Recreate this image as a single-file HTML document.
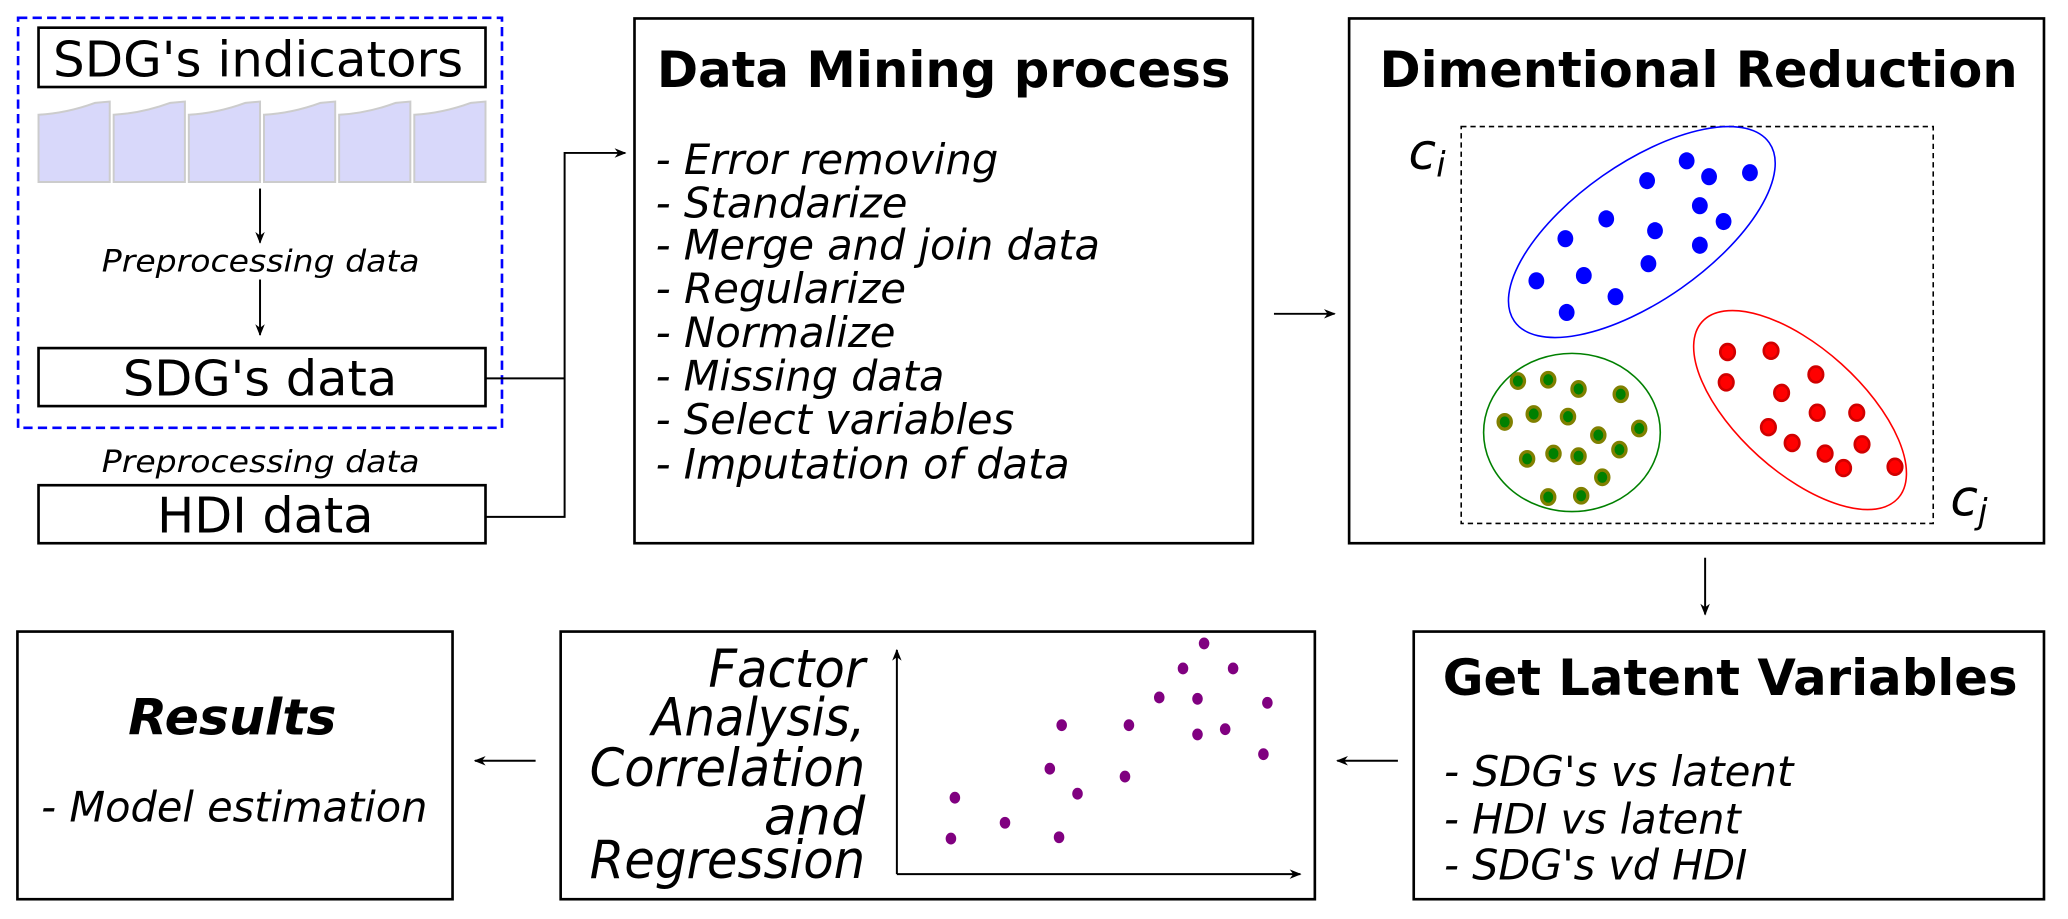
<!DOCTYPE html>
<html><head><meta charset="utf-8"><style>
html,body{margin:0;padding:0;background:#fff;}
svg{display:block;}
text{font-family:"DejaVu Sans","Liberation Sans",sans-serif;fill:#000;}
.it{font-style:italic;}
.b{font-weight:bold;}
</style></head><body>
<svg width="2068" height="919" viewBox="0 0 1568 697" xmlns="http://www.w3.org/2000/svg">
<defs>
<marker id="ah" viewBox="0 0 10 10" refX="9" refY="5" markerWidth="9" markerHeight="9" markerUnits="userSpaceOnUse" orient="auto">
<path d="M0,1 L10,5 L0,9 L3,5 Z" fill="#000"/>
</marker>
</defs>
<rect x="0" y="0" width="1568" height="697" fill="#fff"/>

<rect x="13.5" y="13.5" width="367" height="311" fill="none" stroke="#0000ff" stroke-width="2" stroke-dasharray="7,4"/>
<rect x="29" y="21" width="339" height="45" fill="#fff" stroke="#000" stroke-width="2"/>
<text x="40" y="58" font-size="37" textLength="311" lengthAdjust="spacingAndGlyphs">SDG's indicators</text>
<g fill="#d8d8fa" stroke="#cccccc" stroke-width="1.5">
<path d="M29,138 V87 Q50,86 72,78 L83,77 V138 Z"/>
<path d="M86,138 V87 Q107,86 129,78 L140,77 V138 Z"/>
<path d="M143,138 V87 Q164,86 186,78 L197,77 V138 Z"/>
<path d="M200,138 V87 Q221,86 243,78 L254,77 V138 Z"/>
<path d="M257,138 V87 Q278,86 300,78 L311,77 V138 Z"/>
<path d="M314,138 V87 Q335,86 357,78 L368,77 V138 Z"/>
</g>
<line x1="197" y1="143" x2="197" y2="184" stroke="#000" stroke-width="1.5" marker-end="url(#ah)"/>
<text x="77" y="206" font-size="23" class="it" textLength="241" lengthAdjust="spacingAndGlyphs">Preprocessing data</text>
<line x1="197" y1="212" x2="197" y2="254" stroke="#000" stroke-width="1.5" marker-end="url(#ah)"/>
<rect x="29" y="264" width="339" height="44" fill="#fff" stroke="#000" stroke-width="2"/>
<text x="93" y="300" font-size="37" textLength="208" lengthAdjust="spacingAndGlyphs">SDG's data</text>
<text x="77" y="358" font-size="23" class="it" textLength="241" lengthAdjust="spacingAndGlyphs">Preprocessing data</text>
<rect x="29" y="368" width="339" height="44" fill="#fff" stroke="#000" stroke-width="2"/>
<text x="119" y="404" font-size="37" textLength="164" lengthAdjust="spacingAndGlyphs">HDI data</text>

<polyline points="368,287 428,287" fill="none" stroke="#000" stroke-width="1.5"/>
<polyline points="368,392 428,392 428,116 474,116" fill="none" stroke="#000" stroke-width="1.5" marker-end="url(#ah)"/>

<rect x="481" y="14" width="469" height="398" fill="#fff" stroke="#000" stroke-width="2"/>
<text x="498" y="66" font-size="38" class="b" textLength="435" lengthAdjust="spacingAndGlyphs">Data Mining process</text>
<g font-size="32">
<text x="497" y="132" class="it" textLength="260" lengthAdjust="spacingAndGlyphs">- Error removing</text>
<text x="497" y="165" class="it" textLength="191" lengthAdjust="spacingAndGlyphs">- Standarize</text>
<text x="497" y="197" class="it" textLength="337" lengthAdjust="spacingAndGlyphs">- Merge and join data</text>
<text x="497" y="230" class="it" textLength="190" lengthAdjust="spacingAndGlyphs">- Regularize</text>
<text x="497" y="263" class="it" textLength="182" lengthAdjust="spacingAndGlyphs">- Normalize</text>
<text x="497" y="296" class="it" textLength="219" lengthAdjust="spacingAndGlyphs">- Missing data</text>
<text x="497" y="329" class="it" textLength="272" lengthAdjust="spacingAndGlyphs">- Select variables</text>
<text x="497" y="363" class="it" textLength="314" lengthAdjust="spacingAndGlyphs">- Imputation of data</text>
</g>
<line x1="966" y1="238" x2="1012" y2="238" stroke="#000" stroke-width="1.5" marker-end="url(#ah)"/>

<rect x="1023" y="14" width="527" height="398" fill="#fff" stroke="#000" stroke-width="2"/>
<text x="1046" y="66" font-size="38" class="b" textLength="484" lengthAdjust="spacingAndGlyphs">Dimentional Reduction</text>
<rect x="1108" y="96" width="358" height="301" fill="none" stroke="#000" stroke-width="1.2" stroke-dasharray="4,3"/>
<text x="1068" y="128" font-size="38" class="it">c</text><text x="1089" y="134" font-size="26" class="it">i</text>
<text x="1479" y="391" font-size="38" class="it">c</text><text x="1500" y="397" font-size="26" class="it">j</text>
<ellipse cx="1245" cy="176" rx="118" ry="52" transform="rotate(-35 1245 176)" fill="none" stroke="#0000ff" stroke-width="1.2"/>
<ellipse cx="1192" cy="328" rx="67" ry="60" fill="none" stroke="#008000" stroke-width="1.2"/>
<ellipse cx="1365" cy="311" rx="100" ry="47" transform="rotate(42 1365 311)" fill="none" stroke="#ff0000" stroke-width="1.2"/>
<g fill="#0000ff">
<ellipse cx="1249" cy="137" rx="6" ry="6.5"/><ellipse cx="1279" cy="122" rx="6" ry="6.5"/><ellipse cx="1296" cy="134" rx="6" ry="6.5"/><ellipse cx="1327" cy="131" rx="6" ry="6.5"/>
<ellipse cx="1218" cy="166" rx="6" ry="6.5"/><ellipse cx="1289" cy="156" rx="6" ry="6.5"/><ellipse cx="1307" cy="168" rx="6" ry="6.5"/><ellipse cx="1187" cy="181" rx="6" ry="6.5"/>
<ellipse cx="1255" cy="175" rx="6" ry="6.5"/><ellipse cx="1289" cy="186" rx="6" ry="6.5"/><ellipse cx="1165" cy="213" rx="6" ry="6.5"/><ellipse cx="1201" cy="209" rx="6" ry="6.5"/>
<ellipse cx="1250" cy="200" rx="6" ry="6.5"/><ellipse cx="1225" cy="225" rx="6" ry="6.5"/><ellipse cx="1188" cy="237" rx="6" ry="6.5"/>
</g>
<g fill="#008000" stroke="#808000" stroke-width="2.5">
<ellipse cx="1151" cy="289" rx="5" ry="5.5"/><ellipse cx="1174" cy="288" rx="5" ry="5.5"/><ellipse cx="1197" cy="295" rx="5" ry="5.5"/><ellipse cx="1229" cy="299" rx="5" ry="5.5"/>
<ellipse cx="1141" cy="320" rx="5" ry="5.5"/><ellipse cx="1163" cy="314" rx="5" ry="5.5"/><ellipse cx="1189" cy="316" rx="5" ry="5.5"/><ellipse cx="1243" cy="325" rx="5" ry="5.5"/>
<ellipse cx="1212" cy="330" rx="5" ry="5.5"/><ellipse cx="1158" cy="348" rx="5" ry="5.5"/><ellipse cx="1178" cy="344" rx="5" ry="5.5"/><ellipse cx="1197" cy="346" rx="5" ry="5.5"/>
<ellipse cx="1228" cy="341" rx="5" ry="5.5"/><ellipse cx="1215" cy="362" rx="5" ry="5.5"/><ellipse cx="1174" cy="377" rx="5" ry="5.5"/><ellipse cx="1199" cy="376" rx="5" ry="5.5"/>
</g>
<g fill="#ff0000" stroke="#d00000" stroke-width="2">
<ellipse cx="1310" cy="267" rx="5.5" ry="6"/><ellipse cx="1343" cy="266" rx="5.5" ry="6"/><ellipse cx="1377" cy="284" rx="5.5" ry="6"/><ellipse cx="1309" cy="290" rx="5.5" ry="6"/>
<ellipse cx="1351" cy="298" rx="5.5" ry="6"/><ellipse cx="1378" cy="313" rx="5.5" ry="6"/><ellipse cx="1408" cy="313" rx="5.5" ry="6"/><ellipse cx="1341" cy="324" rx="5.5" ry="6"/>
<ellipse cx="1359" cy="336" rx="5.5" ry="6"/><ellipse cx="1384" cy="344" rx="5.5" ry="6"/><ellipse cx="1412" cy="337" rx="5.5" ry="6"/><ellipse cx="1437" cy="354" rx="5.5" ry="6"/>
<ellipse cx="1398" cy="355" rx="5.5" ry="6"/>
</g>
<line x1="1293" y1="423" x2="1293" y2="466" stroke="#000" stroke-width="1.5" marker-end="url(#ah)"/>

<rect x="1072" y="479" width="478" height="203" fill="#fff" stroke="#000" stroke-width="2"/>
<text x="1094" y="527" font-size="38" class="b" textLength="436" lengthAdjust="spacingAndGlyphs">Get Latent Variables</text>
<text x="1095" y="596" font-size="32" class="it" textLength="265" lengthAdjust="spacingAndGlyphs">- SDG's vs latent</text>
<text x="1095" y="632" font-size="32" class="it" textLength="225" lengthAdjust="spacingAndGlyphs">- HDI vs latent</text>
<text x="1095" y="667" font-size="32" class="it" textLength="230" lengthAdjust="spacingAndGlyphs">- SDG's vd HDI</text>
<line x1="1060" y1="577" x2="1014" y2="577" stroke="#000" stroke-width="1.5" marker-end="url(#ah)"/>

<rect x="425" y="479" width="572" height="203" fill="#fff" stroke="#000" stroke-width="2"/>
<g font-size="40">
<text x="537" y="521" class="it" textLength="119" lengthAdjust="spacingAndGlyphs">Factor</text>
<text x="494" y="558" class="it" textLength="162" lengthAdjust="spacingAndGlyphs">Analysis,</text>
<text x="447" y="596" class="it" textLength="209" lengthAdjust="spacingAndGlyphs">Correlation</text>
<text x="579" y="633" class="it" textLength="77" lengthAdjust="spacingAndGlyphs">and</text>
<text x="447" y="666" class="it" textLength="209" lengthAdjust="spacingAndGlyphs">Regression</text>
</g>
<line x1="680" y1="663" x2="680" y2="493" stroke="#000" stroke-width="1.5" marker-end="url(#ah)"/>
<line x1="680" y1="663" x2="986" y2="663" stroke="#000" stroke-width="1.5" marker-end="url(#ah)"/>
<g fill="#800080">
<ellipse cx="913" cy="488" rx="4" ry="4.5"/><ellipse cx="897" cy="507" rx="4" ry="4.5"/><ellipse cx="935" cy="507" rx="4" ry="4.5"/><ellipse cx="879" cy="529" rx="4" ry="4.5"/>
<ellipse cx="908" cy="530" rx="4" ry="4.5"/><ellipse cx="961" cy="533" rx="4" ry="4.5"/><ellipse cx="805" cy="550" rx="4" ry="4.5"/><ellipse cx="856" cy="550" rx="4" ry="4.5"/>
<ellipse cx="908" cy="557" rx="4" ry="4.5"/><ellipse cx="929" cy="553" rx="4" ry="4.5"/><ellipse cx="958" cy="572" rx="4" ry="4.5"/><ellipse cx="796" cy="583" rx="4" ry="4.5"/>
<ellipse cx="853" cy="589" rx="4" ry="4.5"/><ellipse cx="817" cy="602" rx="4" ry="4.5"/><ellipse cx="724" cy="605" rx="4" ry="4.5"/><ellipse cx="762" cy="624" rx="4" ry="4.5"/>
<ellipse cx="721" cy="636" rx="4" ry="4.5"/><ellipse cx="803" cy="635" rx="4" ry="4.5"/>
</g>
<line x1="406" y1="577" x2="360" y2="577" stroke="#000" stroke-width="1.5" marker-end="url(#ah)"/>

<rect x="13" y="479" width="330" height="203" fill="#fff" stroke="#000" stroke-width="2"/>
<text x="97" y="557" font-size="38" class="b it" textLength="158" lengthAdjust="spacingAndGlyphs">Results</text>
<text x="31" y="623" font-size="32" class="it" textLength="293" lengthAdjust="spacingAndGlyphs">- Model estimation</text>
</svg>
</body></html>
